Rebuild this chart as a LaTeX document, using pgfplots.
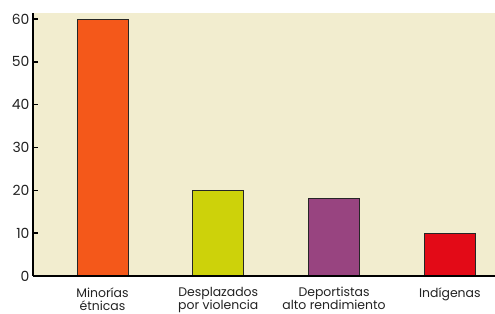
\documentclass[border=0pt]{standalone}
\usepackage{pgfplots}
\pgfplotsset{compat=1.18}
\usepackage{fontspec}
\setmainfont{Poppins}
\definecolor{bgc}{HTML}{F2EDCF}
\definecolor{c1}{HTML}{F4581A}
\definecolor{c2}{HTML}{CDD20A}
\definecolor{c3}{HTML}{984480}
\definecolor{c4}{HTML}{E30A17}
\definecolor{txt}{HTML}{222222}
\begin{document}
\begin{tikzpicture}
\begin{axis}[
  at={(0,0)}, anchor=south west,
  scale only axis,
  width=462bp, height=263bp,
  xmin=-0.6, xmax=3.39,
  ymin=0, ymax=61.4,
  axis lines*=left,
  axis line style={line width=1.6bp, -},
  axis background/.style={fill=bgc},
  xtick={0,1,2,3},
  xticklabels={{Minorías\\étnicas},{Desplazados\\por violencia},{Deportistas\\alto rendimiento},{Indígenas}},
  xticklabel style={align=center, font=\fontsize{12.5}{13}\selectfont, text=txt, yshift=-3bp},
  xtick style={draw=none},
  ytick={0,10,20,30,40,50,60},
  yticklabel style={font=\fontsize{14}{16}\selectfont, text=txt},
  /pgf/number format/assume math mode=true,
  ytick style={line width=1.6bp, black},
  tick align=inside,
  major tick length=5bp,
  ybar, bar width=51bp, bar shift=0pt,
  clip=false,
  axis on top,
]
\addplot[draw=black!85, line width=0.8bp, fill=c1] coordinates {(0,60)};
\addplot[draw=black!85, line width=0.8bp, fill=c2] coordinates {(1,20)};
\addplot[draw=black!85, line width=0.8bp, fill=c3] coordinates {(2,18)};
\addplot[draw=black!85, line width=0.8bp, fill=c4] coordinates {(3,10)};
\end{axis}
\pgfresetboundingbox
\path[use as bounding box] (-33bp,-38bp) rectangle (462bp,276bp);
\end{tikzpicture}
\end{document}
